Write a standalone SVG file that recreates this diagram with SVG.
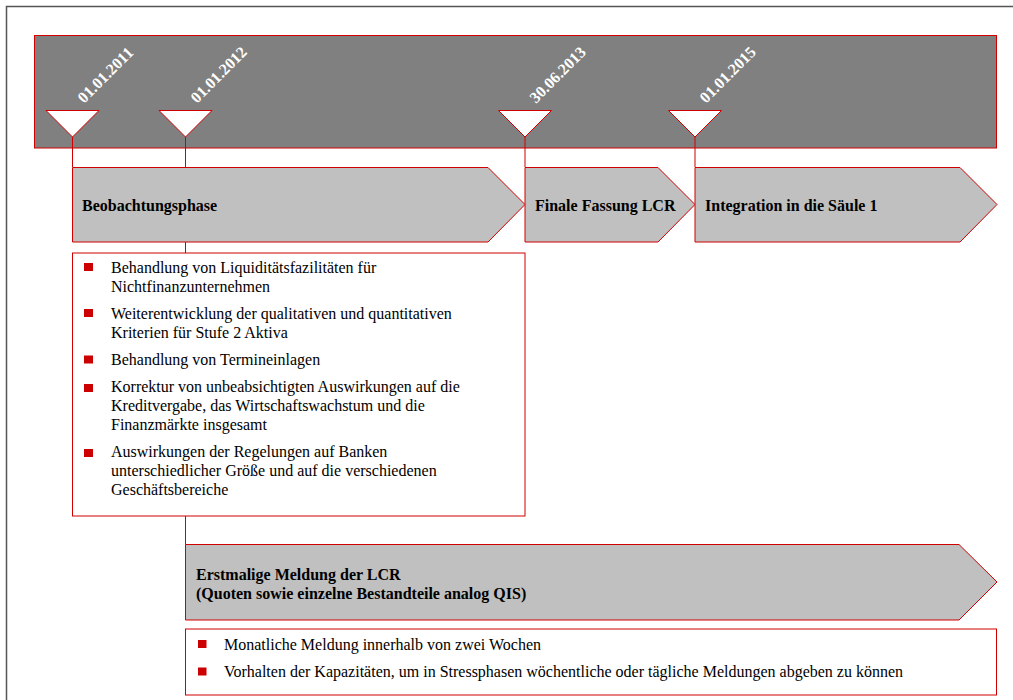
<svg xmlns="http://www.w3.org/2000/svg" width="1013" height="700" viewBox="0 0 1013 700">
  <defs>
    <style>
      .frame { fill: none; stroke: #555555; stroke-width: 1.5; }
      .band { fill: #808080; stroke: #d00000; stroke-width: 1; }
      .mark { fill: #ffffff; stroke: #d00000; stroke-width: 1; }
      .phase { fill: #c0c0c0; stroke: #d00000; stroke-width: 1; }
      .box { fill: #ffffff; stroke: #d00000; stroke-width: 1; }
      .link { stroke: #d00000; stroke-width: 1; fill: none; }
      .bullet { fill: #cc0000; }
      .date { font-family: "Liberation Serif", "Times New Roman", serif; font-size: 16px; font-weight: bold; fill: #ffffff; }
      .title { font-family: "Liberation Serif", "Times New Roman", serif; font-size: 16px; font-weight: bold; fill: #000000; }
      .item { font-family: "Liberation Serif", "Times New Roman", serif; font-size: 16px; fill: #000000; }
    </style>
  </defs>

  <rect width="1013" height="700" fill="#ffffff"/>
  <!-- page frame -->
  <rect class="frame" x="6.5" y="6.5" width="1100" height="800"/>

  <!-- timeline band -->
  <g id="timeline">
    <rect class="band" x="34.5" y="35.5" width="962" height="112.5"/>
  </g>

  <!-- connectors -->
  <g id="connectors">
    <line class="link" x1="72.5" y1="137" x2="72.5" y2="167"/>
    <line class="link" x1="185.5" y1="137" x2="185.5" y2="167"/>
    <line class="link" x1="525" y1="137" x2="525" y2="167"/>
    <line class="link" x1="695" y1="137" x2="695" y2="167"/>
    <line class="link" x1="185.5" y1="242" x2="185.5" y2="253"/>
    <line class="link" x1="185.5" y1="516" x2="185.5" y2="544.5"/>
  </g>

  <!-- milestones -->
  <g id="m2011">
    <polygon class="mark" points="46,110.5 99,110.5 72.5,137"/>
    <text class="date" transform="translate(84,104) rotate(-45)">01.01.2011</text>
  </g>
  <g id="m2012">
    <polygon class="mark" points="159,110.5 212,110.5 185.5,137"/>
    <text class="date" transform="translate(197,104) rotate(-45)">01.01.2012</text>
  </g>
  <g id="m2013">
    <polygon class="mark" points="498.5,110.5 551.5,110.5 525,137"/>
    <text class="date" transform="translate(536,104) rotate(-45)">30.06.2013</text>
  </g>
  <g id="m2015">
    <polygon class="mark" points="668.5,110.5 721.5,110.5 695,137"/>
    <text class="date" transform="translate(706,104) rotate(-45)">01.01.2015</text>
  </g>

  <!-- phases -->
  <g id="beobachtung">
    <polygon class="phase" points="72.5,167.5 488,167.5 525,204.5 488,242 72.5,242"/>
    <text class="title" x="82" y="210.5">Beobachtungsphase</text>
  </g>
  <g id="finale">
    <polygon class="phase" points="525,167.5 658,167.5 695,204.5 658,242 525,242"/>
    <text class="title" x="535" y="210.5">Finale Fassung LCR</text>
  </g>
  <g id="integration">
    <polygon class="phase" points="695,167.5 960,167.5 997,204.5 960,242 695,242"/>
    <text class="title" x="705" y="210.5">Integration in die Säule 1</text>
  </g>

  <!-- observation topics -->
  <g id="themen">
    <rect class="box" x="72.5" y="253" width="452.5" height="263"/>
    <rect class="bullet" x="84" y="263" width="9" height="8"/>
    <text class="item" x="111" y="272.5">Behandlung von Liquiditätsfazilitäten für</text>
    <text class="item" x="111" y="291.5">Nichtfinanzunternehmen</text>
    <rect class="bullet" x="84" y="309" width="9" height="8"/>
    <text class="item" x="111" y="318.5">Weiterentwicklung der qualitativen und quantitativen</text>
    <text class="item" x="111" y="337.5">Kriterien für Stufe 2 Aktiva</text>
    <rect class="bullet" x="84" y="355.5" width="9" height="8"/>
    <text class="item" x="111" y="365">Behandlung von Termineinlagen</text>
    <rect class="bullet" x="84" y="384" width="9" height="8"/>
    <text class="item" x="111" y="391.5">Korrektur von unbeabsichtigten Auswirkungen auf die</text>
    <text class="item" x="111" y="410.5">Kreditvergabe, das Wirtschaftswachstum und die</text>
    <text class="item" x="111" y="430">Finanzmärkte insgesamt</text>
    <rect class="bullet" x="84" y="449" width="9" height="8"/>
    <text class="item" x="111" y="456.5">Auswirkungen der Regelungen auf Banken</text>
    <text class="item" x="111" y="475.5">unterschiedlicher Größe und auf die verschiedenen</text>
    <text class="item" x="111" y="495">Geschäftsbereiche</text>
  </g>

  <!-- first LCR reporting -->
  <g id="meldung">
    <polygon class="phase" points="185.5,544.5 959,544.5 997,582 959,620 185.5,620"/>
    <text class="title" x="196" y="579.5">Erstmalige Meldung der LCR</text>
    <text class="title" x="196" y="598.5">(Quoten sowie einzelne Bestandteile analog QIS)</text>
  </g>

  <g id="meldepflichten">
    <rect class="box" x="185.5" y="629" width="811" height="66"/>
    <rect class="bullet" x="198" y="640" width="8.5" height="8"/>
    <text class="item" x="224" y="649.5">Monatliche Meldung innerhalb von zwei Wochen</text>
    <rect class="bullet" x="198" y="667.5" width="8.5" height="8"/>
    <text class="item" x="224" y="676.5">Vorhalten der Kapazitäten, um in Stressphasen wöchentliche oder tägliche Meldungen abgeben zu können</text>
  </g>
</svg>
